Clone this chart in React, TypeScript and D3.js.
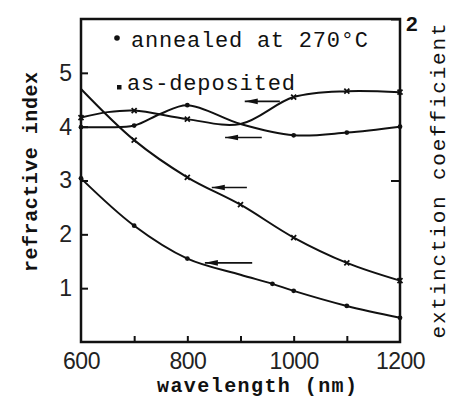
import React, {useRef, useEffect} from 'react'
import * as d3 from 'd3'

// as-deposited, decreasing curve (x marks)
const seriesA_nm = [600, 700, 800, 900, 1000, 1100, 1200]
const seriesA_val = [4.7, 3.75, 3.06, 2.55, 1.94, 1.47, 1.14]
const seriesA_marks = [700, 800, 900, 1000, 1100, 1200]

// annealed, decreasing curve (dots)
const seriesB_nm = [600, 700, 800, 900, 960, 1000, 1100, 1200]
const seriesB_val = [3.04, 2.16, 1.55, 1.25, 1.08, 0.95, 0.67, 0.45]
const seriesB_marks = [600, 700, 800, 960, 1000, 1100, 1200]

// as-deposited, curve near 4 (x marks)
const seriesC_nm = [600, 650, 700, 800, 900, 1000, 1100, 1200]
const seriesC_val = [4.17, 4.27, 4.3, 4.14, 4.05, 4.55, 4.66, 4.64]
const seriesC_marks = [600, 700, 800, 1000, 1100, 1200]

// annealed, curve near 4 (dots)
const seriesD_nm = [600, 650, 700, 750, 800, 900, 1000, 1100, 1200]
const seriesD_val = [3.99, 3.99, 4.02, 4.24, 4.4, 4.05, 3.84, 3.89, 4.0]
const seriesD_marks = [600, 700, 800, 1000, 1100, 1200]

const xTicks = [700, 800, 900, 1000, 1100]
const xLabels = [600, 800, 1000, 1200]
const yTicks = [1, 2, 3, 4, 5]
const kTicks = [1, 2]

// arrows: [start nm, end nm, value] (head at start)
const arrows = [[908, 974, 4.47], [871, 940, 3.8], [846, 912, 2.87], [833, 922, 1.47]]

const mono = '"Liberation Mono", "DejaVu Sans Mono", monospace'
const sans = '"Liberation Sans", Arial, sans-serif'

export default function App() {
	const ref = useRef(null)
	const layout = {width: 450, height: 401, left: 81, right: 400, top: 19, bottom: 342}

	useEffect(() => {
		const svg = d3.select(ref.current)
		svg.selectAll('*').remove()

		const x = d3.scaleLinear().domain([600, 1200]).range([layout.left, layout.right])
		const y = d3.scaleLinear().domain([0, 6]).range([layout.bottom, layout.top])
		const yk = d3.scaleLinear().domain([0, 2]).range([layout.bottom, layout.top])

		// frame
		svg.append('rect')
			.attr('x', layout.left).attr('y', layout.top)
			.attr('width', layout.right - layout.left).attr('height', layout.bottom - layout.top)
			.attr('fill', 'none').attr('stroke', '#111').attr('stroke-width', 2.5)

		// x axis
		const gx = svg.append('g').attr('transform', `translate(0, ${layout.bottom})`)
		gx.call(d3.axisBottom(x).tickValues(xTicks).tickSize(-6).tickFormat(() => ''))
		gx.append('g').call(d3.axisBottom(x).tickValues(xLabels).tickSize(0).tickPadding(11).tickFormat(d3.format('d')))
		// y axis
		const gy = svg.append('g').attr('transform', `translate(${layout.left}, 0)`)
		gy.call(d3.axisLeft(y).tickValues(yTicks).tickSize(-7).tickPadding(9).tickFormat(d3.format('d')))
		// right k axis
		const gk = svg.append('g').attr('transform', `translate(${layout.right}, 0)`)
		gk.call(d3.axisRight(yk).tickValues(kTicks).tickSize(-9).tickPadding(6).tickFormat(d => d === 2 ? '2' : ''))

		svg.selectAll('.domain').remove()
		svg.selectAll('.tick line').attr('stroke', '#111').attr('stroke-width', 2)
		gx.selectAll('text').attr('font-family', sans).attr('font-size', 23).attr('fill', '#222').attr('letter-spacing', -0.5)
		gy.selectAll('text').attr('font-family', sans).attr('font-size', 23).attr('fill', '#222')
		gk.selectAll('text').attr('font-family', sans).attr('font-size', 21).attr('font-weight', 'bold').attr('fill', '#111').attr('dy', '0.55em')

		const line = d3.line().x(d => x(d[0])).y(d => y(d[1])).curve(d3.curveCatmullRom.alpha(0.5))
		const series = [
			[seriesA_nm, seriesA_val, seriesA_marks, 'x'],
			[seriesB_nm, seriesB_val, seriesB_marks, 'dot'],
			[seriesC_nm, seriesC_val, seriesC_marks, 'x'],
			[seriesD_nm, seriesD_val, seriesD_marks, 'dot'],
		]
		series.forEach(([nm, val, marks, kind]) => {
			const pts = nm.map((n, i) => [n, val[i]])
			svg.append('path').datum(pts).attr('d', line)
				.attr('fill', 'none').attr('stroke', '#111').attr('stroke-width', 2)
			const mpts = pts.filter(p => marks.includes(p[0]))
			if (kind === 'dot') {
				svg.selectAll(null).data(mpts).join('circle')
					.attr('cx', d => x(d[0])).attr('cy', d => y(d[1])).attr('r', 2.4).attr('fill', '#111')
			} else {
				svg.selectAll(null).data(mpts).join('path')
					.attr('d', d => `M${x(d[0]) - 2.5},${y(d[1]) - 2.5}L${x(d[0]) + 2.5},${y(d[1]) + 2.5}M${x(d[0]) - 2.5},${y(d[1]) + 2.5}L${x(d[0]) + 2.5},${y(d[1]) - 2.5}`)
					.attr('stroke', '#111').attr('stroke-width', 1.8)
			}
		})

		// axis arrows
		arrows.forEach(([a, b, v]) => {
			const x1 = x(a), x2 = x(b), yy = y(v)
			svg.append('line').attr('x1', x1).attr('x2', x2).attr('y1', yy).attr('y2', yy)
				.attr('stroke', '#111').attr('stroke-width', 1.6)
			svg.append('path').attr('d', `M${x1},${yy}L${x1 + 13},${yy - 2.8}L${x1 + 13},${yy + 2.8}Z`).attr('fill', '#111')
		})

		// legend
		svg.append('circle').attr('cx', 117).attr('cy', 38).attr('r', 2.8).attr('fill', '#111')
		svg.append('text').attr('x', 131).attr('y', 47).text('annealed at 270°C')
			.attr('font-family', mono).attr('font-size', 22).attr('textLength', 237).attr('fill', '#111')
		svg.append('rect').attr('x', 117).attr('y', 85).attr('width', 4.5).attr('height', 4.5).attr('fill', '#111')
		svg.append('text').attr('x', 127).attr('y', 90).text('as-deposited')
			.attr('font-family', mono).attr('font-size', 22).attr('textLength', 168).attr('fill', '#111')

		// axis titles
		svg.append('text').attr('transform', 'translate(37, 172) rotate(-90)').attr('text-anchor', 'middle')
			.text('refractive index').attr('font-family', mono).attr('font-weight', 'bold')
			.attr('font-size', 20).attr('textLength', 200).attr('fill', '#111')
		svg.append('text').attr('transform', 'translate(445, 181) rotate(-90)').attr('text-anchor', 'middle')
			.text('extinction coefficient').attr('font-family', mono)
			.attr('font-size', 21).attr('textLength', 315).attr('fill', '#111')
		svg.append('text').attr('x', 257).attr('y', 392).attr('text-anchor', 'middle')
			.text('wavelength (nm)').attr('font-family', mono).attr('font-weight', 'bold')
			.attr('font-size', 20).attr('textLength', 200).attr('fill', '#111')
	}, [])

	return (
		<svg ref={ref} width={layout.width} height={layout.height}
			style={{position: 'absolute', left: 0, top: 0, background: '#fff'}} />
	)
}
